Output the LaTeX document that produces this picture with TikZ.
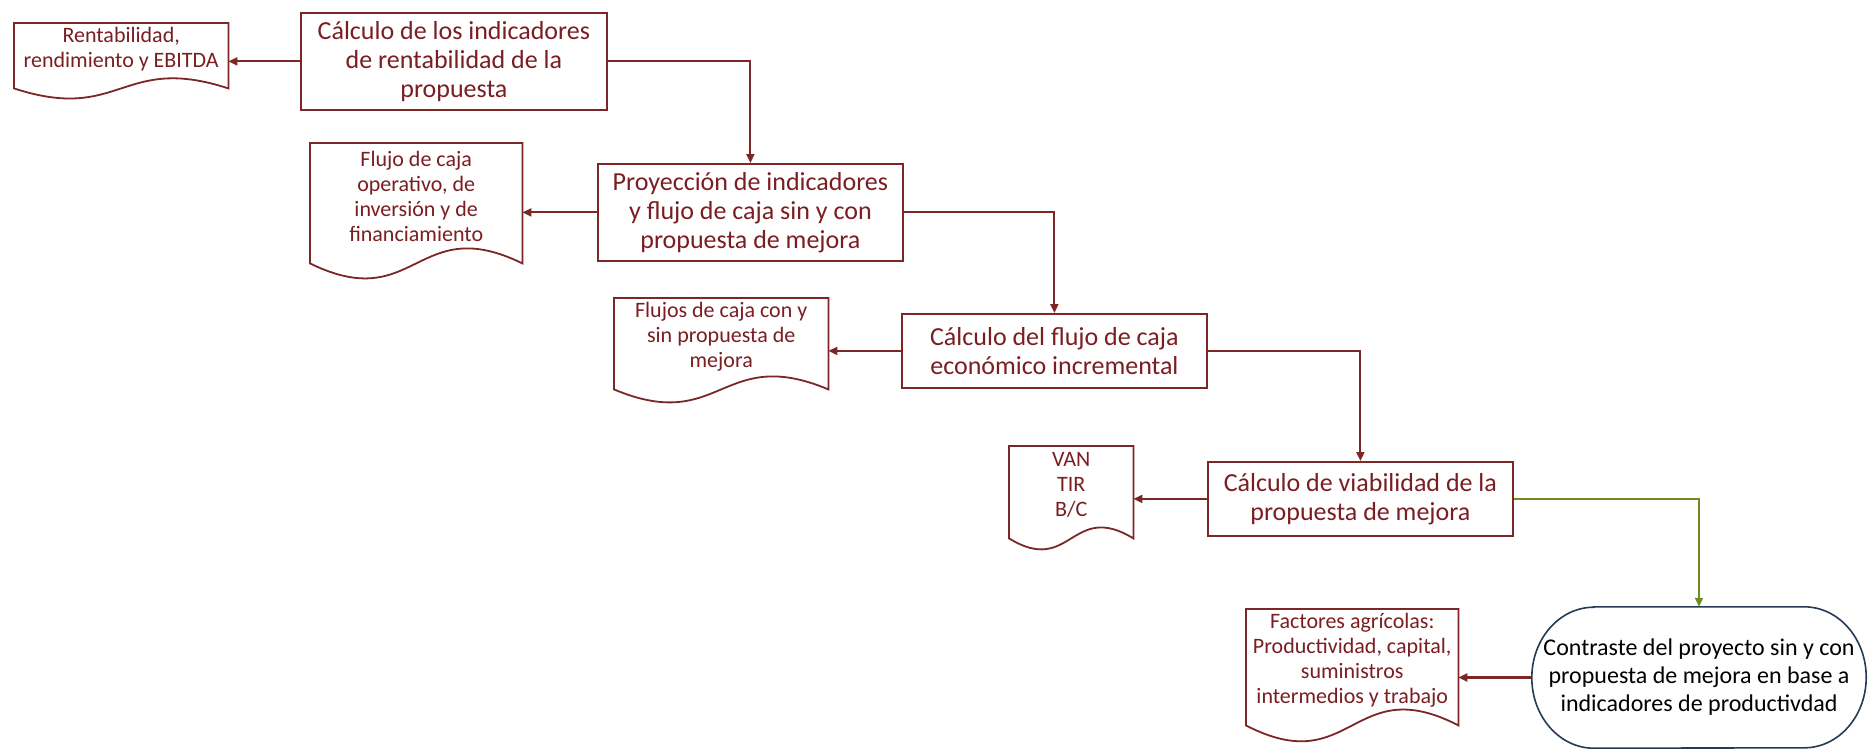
\documentclass[tikz,border=0pt]{standalone}
\usepackage{fontspec}
\setmainfont{Carlito}
\usetikzlibrary{arrows.meta,calc}
\definecolor{brickline}{RGB}{125,38,38}
\definecolor{bricktext}{RGB}{122,30,34}
\definecolor{oliveline}{RGB}{112,140,32}
\definecolor{slateline}{RGB}{38,58,88}

\tikzset{
  procbox/.style={draw=brickline, line width=1.8pt, text=bricktext, align=center,
    font=\fontsize{26}{29}\selectfont, inner sep=0pt, anchor=north west},
  docnode/.style={text=bricktext, align=center, font=\fontsize{22}{25}\selectfont,
    inner sep=0pt, anchor=north west},
  docline/.style={draw=brickline, line width=1.8pt, line join=miter},
  termline/.style={draw=slateline, line width=1.6pt},
  termnode/.style={text=black, align=center, font=\fontsize{24}{28}\selectfont, inner sep=0pt},
  flowarrow/.style={draw=brickline, line width=1.9pt, -{Triangle[length=9pt,width=8pt]}},
  greenarrow/.style={draw=oliveline, line width=1.9pt, -{Triangle[length=9pt,width=8pt]}},
}

% document symbol: rectangle with a wavy bottom edge hanging 14 units below the text node
\newcommand{\drawdocshape}[2]{%
  \draw[docline] ($(#1.south west)+(0,14)$) -- (#1.north west) -- (#1.north east)
    -- ($(#1.south east)+(0,14)$)
    .. controls ($(#1.south)+(0,14-#2)$) and ($(#1.south)+(0,14+#2)$) .. cycle;}

\begin{document}
\begin{tikzpicture}[x=1pt,y=-1pt]
\useasboundingbox (0,0) rectangle (1870,748);
\fill[white] (0,0) rectangle (1870,748);

% process steps
\node[procbox, minimum width=306pt, minimum height=97pt] (b1) at (300,12)
  {Cálculo de los indicadores\\de rentabilidad de la\\propuesta};
\node[procbox, minimum width=305pt, minimum height=97pt] (b2) at (597,163)
  {Proyección de indicadores\\y flujo de caja sin y con\\propuesta de mejora};
\node[procbox, minimum width=305pt, minimum height=74pt] (b3) at (901,313)
  {Cálculo del flujo de caja\\económico incremental};
\node[procbox, minimum width=305pt, minimum height=74pt] (b4) at (1207,461)
  {Cálculo de viabilidad de la\\propuesta de mejora};

% terminator
\node[termnode, minimum width=334pt, minimum height=141pt] (e) at (1699,677.5)
  {Contraste del proyecto sin y con\\propuesta de mejora en base a\\indicadores de productivdad};
\draw[termline] ([xshift=62pt]e.north west) -- ([xshift=-62pt]e.north east)
  arc[start angle=90, end angle=-90, x radius=62pt, y radius=70.5pt]
  -- ([xshift=62pt]e.south west)
  arc[start angle=270, end angle=90, x radius=62pt, y radius=70.5pt] -- cycle;

% documents
\node[docnode, minimum width=214pt, minimum height=51pt] (d1) at (14,23)
  {Rentabilidad,\\rendimiento y EBITDA};
\node[docnode, minimum width=212pt, minimum height=106pt] (d2) at (310,143)
  {Flujo de caja\\operativo, de\\inversión y de\\financiamiento};
\node[docnode, minimum width=214pt, minimum height=77pt] (d3) at (614,298)
  {Flujos de caja con y\\sin propuesta de\\mejora};
\node[docnode, minimum width=124pt, minimum height=78pt] (d4) at (1009,446)
  {VAN\\TIR\\B/C};
\node[docnode, minimum width=212pt, minimum height=102pt] (d5) at (1246,609)
  {Factores agrícolas:\\Productividad, capital,\\suministros\\intermedios y trabajo};
\drawdocshape{d1}{35}
\drawdocshape{d2}{52}
\drawdocshape{d3}{45}
\drawdocshape{d4}{38}
\drawdocshape{d5}{55}

% main flow
\draw[flowarrow] (b1.east) -| (b2.north);
\draw[flowarrow] (b2.east) -| (b3.north);
\draw[flowarrow] (b3.east) -| (b4.north);
\draw[greenarrow] (b4.east) -| (e.north);

% outputs
\draw[flowarrow] (b1.west) -- (b1.west -| d1.east);
\draw[flowarrow] (b2.west) -- (b2.west -| d2.east);
\draw[flowarrow] (b3.west) -- (b3.west -| d3.east);
\draw[flowarrow] (b4.west) -- (b4.west -| d4.east);
\draw[flowarrow, line width=2.3pt] (e.west) -- (e.west -| d5.east);
\end{tikzpicture}
\end{document}
